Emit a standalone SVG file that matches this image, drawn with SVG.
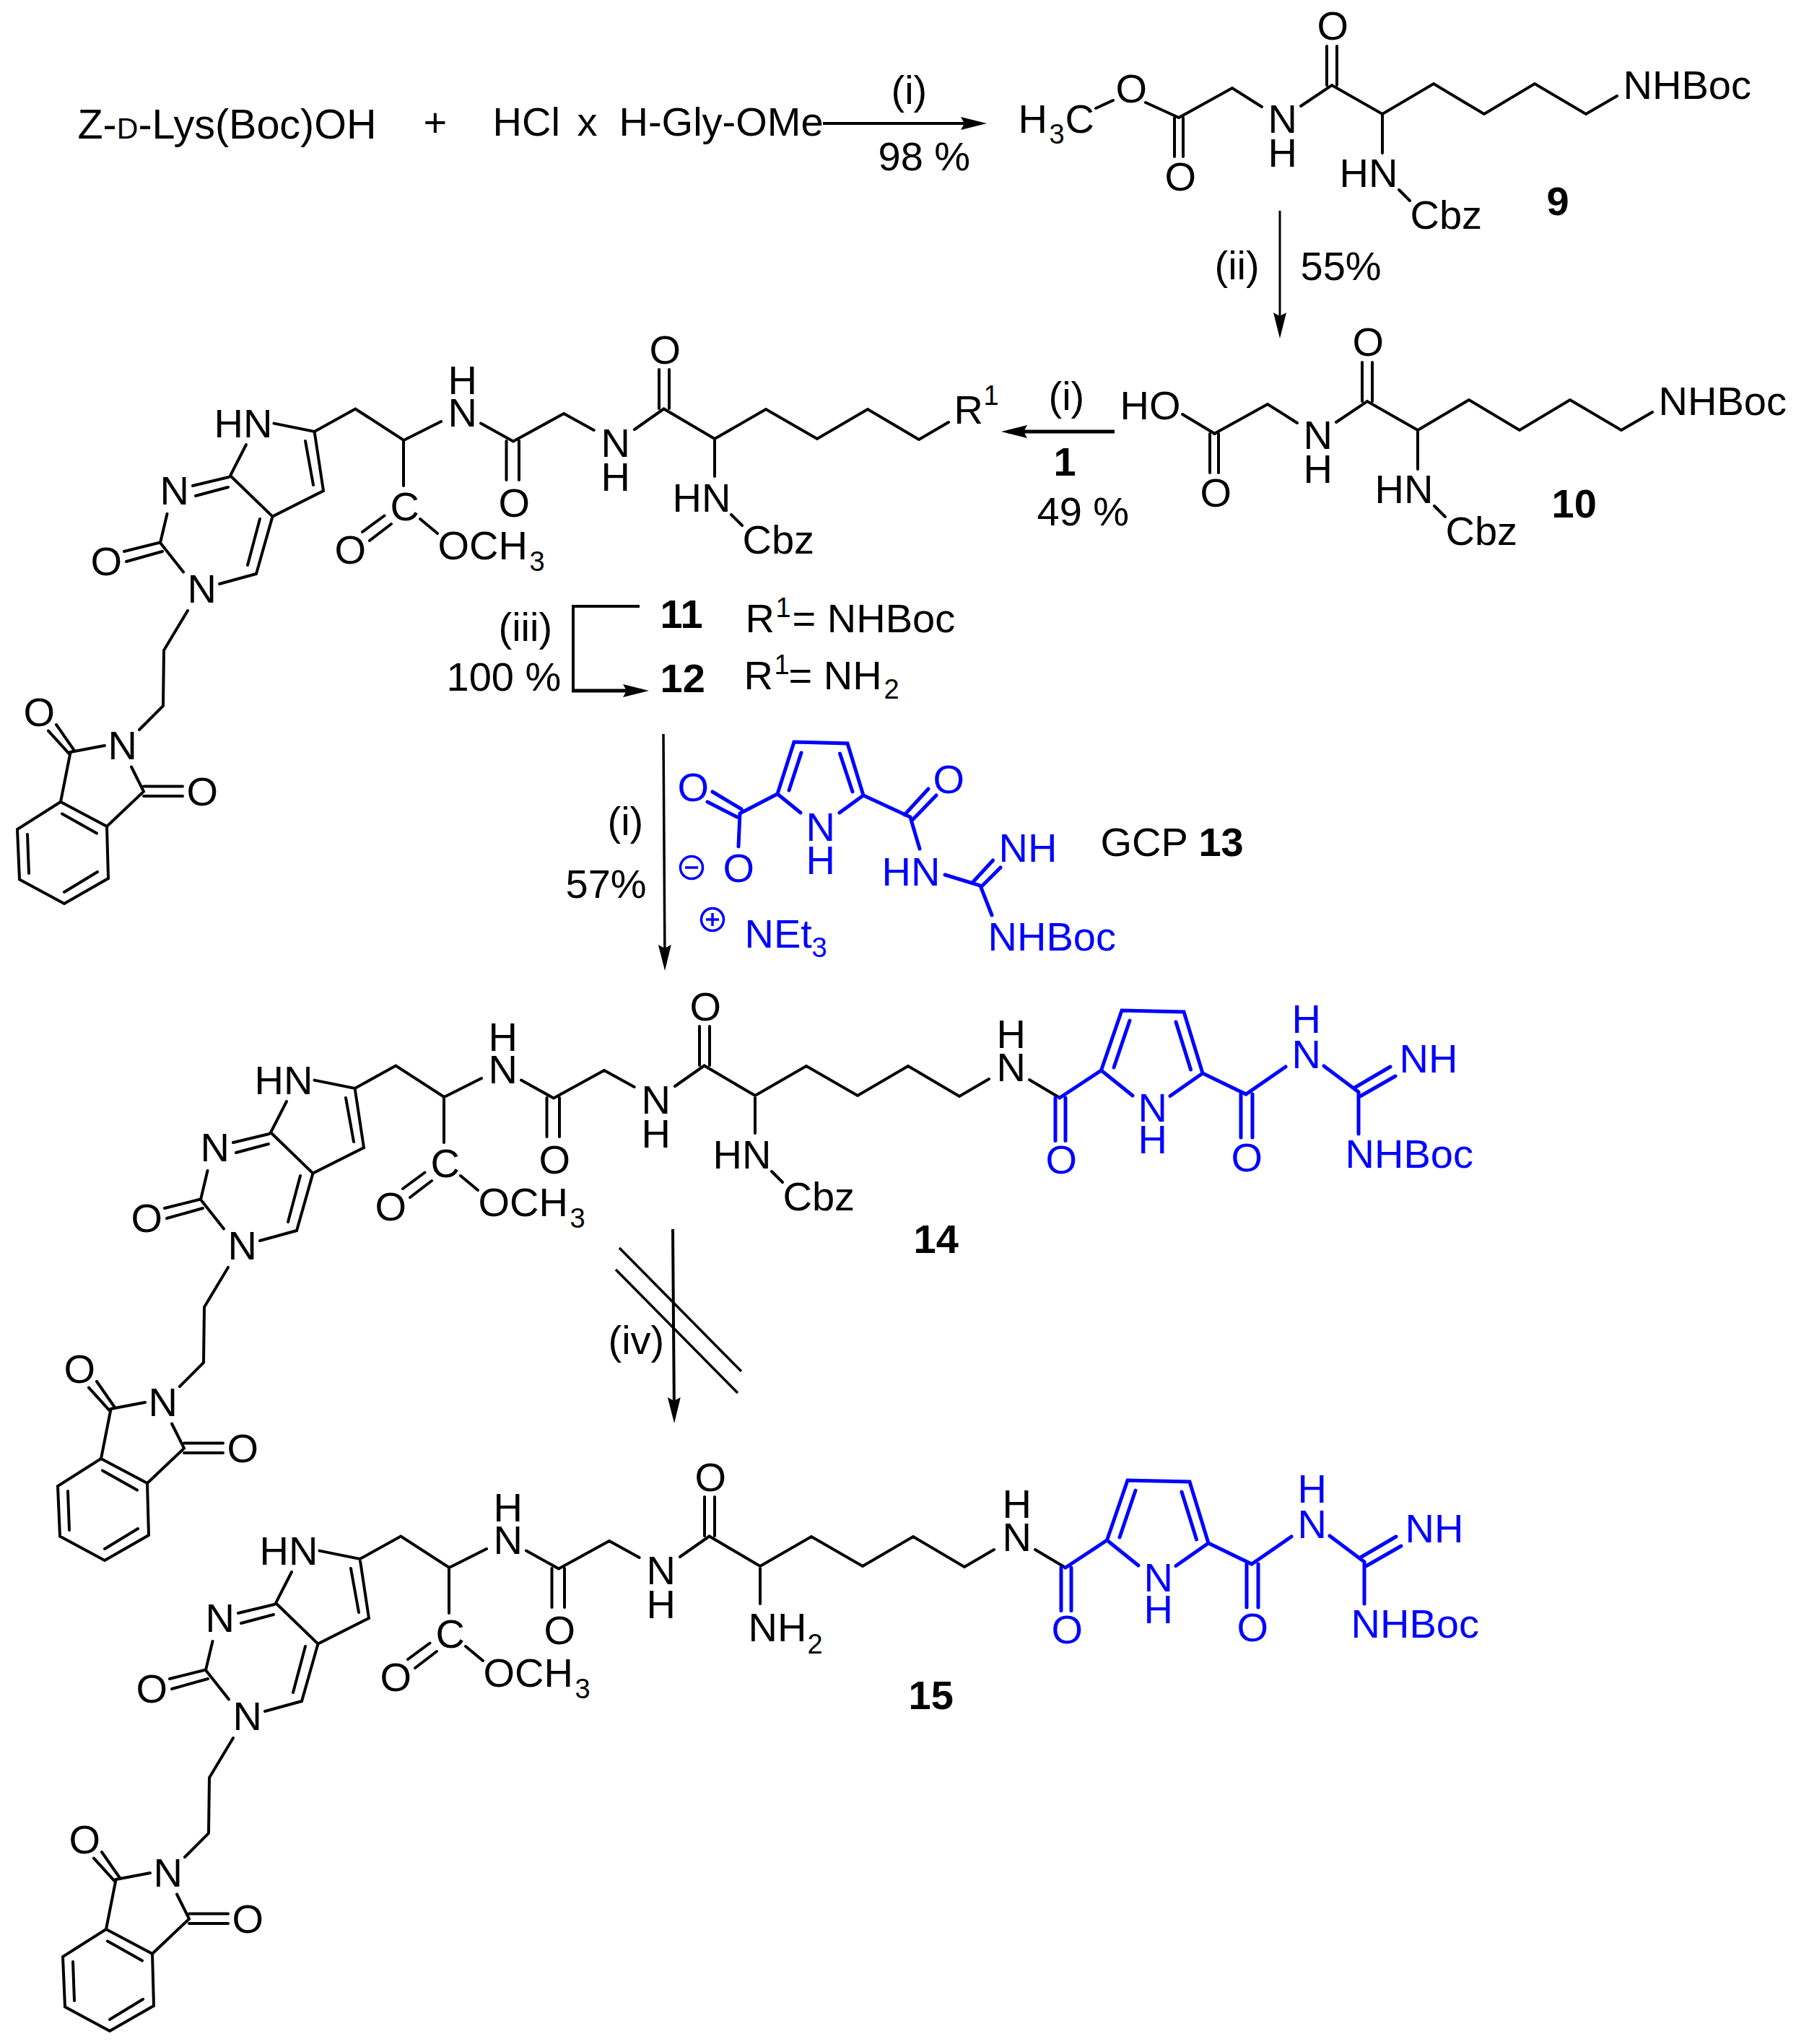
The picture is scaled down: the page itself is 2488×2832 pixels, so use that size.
<svg xmlns="http://www.w3.org/2000/svg" xmlns:xlink="http://www.w3.org/1999/xlink" width="2488" height="2832" viewBox="0 0 2488 2832">
<style>
text{font-family:"Liberation Sans",Arial,sans-serif;font-size:56px;fill:#000;transform:translate(-3.5px,0)}
.s{font-size:38px}
.d{font-weight:bold}
.b{fill:#0000ff}
.k{fill:none;stroke:#000;stroke-width:4;stroke-linecap:round;stroke-linejoin:miter}
.u{fill:none;stroke:#0000ff;stroke-width:5;stroke-linecap:round;stroke-linejoin:miter}
.a{fill:none;stroke:#000;stroke-width:4}
</style>
<defs>
<marker id="head" markerUnits="userSpaceOnUse" markerWidth="44" markerHeight="24" refX="26" refY="12" orient="auto"><path d="M0,3 L36,12 L0,21 L5,12 Z" fill="#000"/></marker>
<path id="core-bonds" d="M379.5,586.6L435.6,598L492.3,566.5L559.3,610L611,584M666,586.6L711,611.5L781,573L822.7,596M879,595L919.6,566.5L990,608L1061,567L1132,608L1202,567L1273,609L1314,585M701.5,611V665M719,611V665M913,566V512M927,566V512M990,608V660M341,616L319,659L377.5,715.6L448,680L435.6,598M423,611L434,672M317,661L267,673M316,675L271,687M231.5,712L222,752L254,792.5M220,752L172,764M225,764L175,778M304,809L355,795L377.5,715.6M343,783L360,719M260,846L227,901L226,978L193,1011M145,1033L97.6,1042L84,1111L24,1149L27,1218.6L89,1252L150,1217L148,1145L84,1111M103,1040L78,1004M96,1044.6L67,1012.6M86,1127.5L134,1154.6M182,1062.5L199,1096.6L148,1145M199,1089.6H253M199,1103H253M38,1156L40,1210M89,1236L135,1208M559,610V673M532.5,714.5L502,737M542,726L512,749M582,719L606,739"/>
<path id="amide-link" d="M1426,1496L1468,1521"/>
<path id="blue-bonds" d="M1462,1521V1580.5M1476,1521V1580.5M1468,1521L1525.5,1483L1554,1400L1640,1402L1666,1487L1726,1516L1781,1478M1565,1414L1543,1479M1629,1416L1649.5,1482M1525.5,1483L1569,1518M1666,1487L1621,1518.5M1719,1516V1576M1735,1516V1576M1834,1477L1882,1513V1571M1876.5,1507L1926,1478M1885,1518.5L1933,1491"/>
<path id="lys-bonds" d="M1633,163L1707,122L1748,148M1802,147L1845,118L1915,158L1986,116L2056,158L2126,116L2197,158L2240,133M1627,163V217M1639,163V217M1838,118V64M1852,118V64M1915,158V212M1938,263L1953,278"/>
</defs>

<g id="reagents">
<text x="111" y="192" style="font-size:57.5px">Z-<tspan font-size="41">D</tspan>-Lys(Boc)OH</text>
<text x="590" y="189">+</text>
<text x="686" y="188">HCl</text>
<text x="803" y="188">x</text>
<text x="861" y="188">H-Gly-OMe</text>
</g>

<g id="connectors">
<path class="a" d="M1140,171H1357" marker-end="url(#head)"/>
<path class="a" style="stroke-width:3" d="M1773,292V459" marker-end="url(#head)"/>
<path class="a" style="stroke-width:5" d="M1544,598H1397" marker-end="url(#head)"/>
<path class="a" d="M886,840H794V957"/>
<path class="a" style="stroke-width:5" d="M792,957H889" marker-end="url(#head)"/>
<path class="a" style="stroke-width:3.5" d="M919,1017L921,1335" marker-end="url(#head)"/>
<path class="a" d="M932,1703L934,1962" marker-end="url(#head)"/>
<path class="a" style="stroke-width:3.5" d="M858,1729L1027,1900M853,1759L1022,1930"/>
</g>

<g id="conditions">
<text x="1238" y="144">(i)</text>
<text x="1220" y="236">98 %</text>
<text x="1686" y="387">(ii)</text>
<text x="1805" y="388">55%</text>
<text x="1456" y="568">(i)</text>
<text class="d" x="1463" y="659">1</text>
<text x="1440" y="728">49 %</text>
<text x="694" y="888">(iii)</text>
<text x="622" y="957">100 %</text>
<text x="845" y="1157">(i)</text>
<text x="787" y="1244">57%</text>
<text x="846" y="1876">(iv)</text>
</g>

<g id="compound-9">
<use href="#lys-bonds" class="k"/>
<path class="k" d="M1518,150L1542,139M1587,142L1633,163"/>
<text x="1414" y="184">H</text><text class="s" x="1457" y="199">3</text><text x="1479" y="184">C</text>
<text x="1549" y="142">O</text>
<text x="1617" y="264">O</text>
<text x="1760" y="184">N</text><text x="1760" y="231">H</text>
<text x="1828" y="55">O</text>
<text x="2252" y="137">NHBoc</text>
<text x="1859" y="259">HN</text>
<text x="1957" y="317">Cbz</text>
<text class="d" x="2146" y="298">9</text>
</g>

<g id="compound-10">
<use href="#lys-bonds" class="k" transform="translate(49,438)"/>
<path class="k" d="M1638,574L1683,601"/>
<text x="1555" y="581">HO</text>
<text x="1666" y="702">O</text>
<text x="1809" y="622">N</text><text x="1809" y="669">H</text>
<text x="1877" y="493">O</text>
<text x="2301" y="575">NHBoc</text>
<text x="1908" y="697">HN</text>
<text x="2006" y="755">Cbz</text>
<text class="d" x="2153" y="717">10</text>
</g>

<g id="compound-11">
<use href="#core-bonds" class="k"/>
<path class="k" d="M1013,713L1028,728"/>
<text x="300" y="606">HN</text>
<text x="624" y="591">N</text><text x="624" y="546">H</text>
<text x="694" y="716">O</text>
<text x="836" y="633">N</text><text x="836" y="680">H</text>
<text x="903" y="504">O</text>
<text x="225" y="699">N</text>
<text x="129" y="797">O</text>
<text x="263" y="835">N</text>
<text x="153" y="1052">N</text>
<text x="36" y="1006">O</text>
<text x="262" y="1116">O</text>
<text x="544" y="721">C</text>
<text x="467" y="781">O</text>
<text x="610" y="775">OCH</text><text class="s" x="737" y="791">3</text>
<text x="935" y="709">HN</text>
<text x="1032" y="767">Cbz</text>
<text x="1325" y="587">R</text><text class="s" x="1366" y="561">1</text>
</g>

<g id="labels-11-12">
<text class="d" x="918" y="870">11</text>
<text x="1036" y="876">R</text><text class="s" x="1078" y="855">1</text><text x="1101" y="876">= NHBoc</text>
<text class="d" x="918" y="959">12</text>
<text x="1034" y="955">R</text><text class="s" x="1076" y="934">1</text><text x="1096" y="955">= NH</text><text class="s" x="1228" y="968">2</text>
</g>

<g id="gcp-13">
<path class="u" d="M987,1097L1027,1121M980,1111L1021,1132M1025,1127L1077,1100L1100,1028L1174,1030L1196,1102L1261,1132L1274,1176M1025,1127L1023,1173M1110,1043L1093,1095M1163.5,1044L1181,1097M1077,1100L1109,1126M1196,1102L1163,1126M1286,1093L1253,1129M1297,1102L1263,1137M1309,1212L1358,1227L1374,1268M1375.5,1192L1347,1223M1386,1202L1359,1229"/>
<text class="b" x="942" y="1110">O</text>
<text class="b" x="1005" y="1222">O</text>
<text class="b" x="1120" y="1165">N</text><text class="b" x="1120" y="1211">H</text>
<text class="b" x="1296" y="1099">O</text>
<text class="b" x="1225" y="1227">HN</text>
<text class="b" x="1387" y="1194">NH</text>
<text class="b" x="1372" y="1317">NHBoc</text>
<text class="b" x="1035" y="1313">NEt</text><text class="b s" x="1128" y="1326">3</text>
<circle cx="958" cy="1202" r="15.5" fill="none" stroke="#0000ff" stroke-width="3.5"/><path d="M949,1202H967" stroke="#0000ff" stroke-width="3.5"/>
<circle cx="987" cy="1274" r="15.5" fill="none" stroke="#0000ff" stroke-width="3.5"/><path d="M978,1274H996M987,1265V1283" stroke="#0000ff" stroke-width="3.5"/>
<text x="1528" y="1186">GCP <tspan class="d">13</tspan></text>
</g>

<g id="compound-14">
<g transform="translate(56,910)">
<use href="#core-bonds" class="k"/>
<path class="k" d="M1013,713L1028,728"/>
<text x="300" y="606">HN</text>
<text x="624" y="591">N</text><text x="624" y="546">H</text>
<text x="694" y="716">O</text>
<text x="836" y="633">N</text><text x="836" y="680">H</text>
<text x="903" y="504">O</text>
<text x="225" y="699">N</text>
<text x="129" y="797">O</text>
<text x="263" y="835">N</text>
<text x="153" y="1052">N</text>
<text x="36" y="1006">O</text>
<text x="262" y="1116">O</text>
<text x="544" y="721">C</text>
<text x="467" y="781">O</text>
<text x="610" y="775">OCH</text><text class="s" x="737" y="791">3</text>
<text x="935" y="709">HN</text>
<text x="1032" y="767">Cbz</text>
</g>
<use href="#amide-link" class="k"/>
<use href="#blue-bonds" class="u"/>
<text x="1384" y="1498">N</text><text x="1384" y="1452">H</text>
<text class="b" x="1452" y="1626">O</text>
<text class="b" x="1580" y="1554">N</text><text class="b" x="1580" y="1598">H</text>
<text class="b" x="1709" y="1623">O</text>
<text class="b" x="1793" y="1480">N</text><text class="b" x="1793" y="1431">H</text>
<text class="b" x="1942" y="1486">NH</text>
<text class="b" x="1867" y="1618">NHBoc</text>
<text class="d" x="1269" y="1736">14</text>
</g>

<g id="compound-15">
<g transform="translate(63,1562)">
<use href="#core-bonds" class="k"/>
<text x="300" y="606">HN</text>
<text x="624" y="591">N</text><text x="624" y="546">H</text>
<text x="694" y="716">O</text>
<text x="836" y="633">N</text><text x="836" y="680">H</text>
<text x="903" y="504">O</text>
<text x="225" y="699">N</text>
<text x="129" y="797">O</text>
<text x="263" y="835">N</text>
<text x="153" y="1052">N</text>
<text x="36" y="1006">O</text>
<text x="262" y="1116">O</text>
<text x="544" y="721">C</text>
<text x="467" y="781">O</text>
<text x="610" y="775">OCH</text><text class="s" x="737" y="791">3</text>
</g>
<g transform="translate(8,651)">
<use href="#amide-link" class="k"/>
<use href="#blue-bonds" class="u"/>
<text x="1384" y="1498">N</text><text x="1384" y="1452">H</text>
<text class="b" x="1452" y="1626">O</text>
<text class="b" x="1580" y="1554">N</text><text class="b" x="1580" y="1598">H</text>
<text class="b" x="1709" y="1623">O</text>
<text class="b" x="1793" y="1480">N</text><text class="b" x="1793" y="1431">H</text>
<text class="b" x="1942" y="1486">NH</text>
<text class="b" x="1867" y="1618">NHBoc</text>
</g>
<text x="1040" y="2274">NH</text><text class="s" x="1122" y="2291">2</text>
<text class="d" x="1262" y="2368">15</text>
</g>
</svg>
